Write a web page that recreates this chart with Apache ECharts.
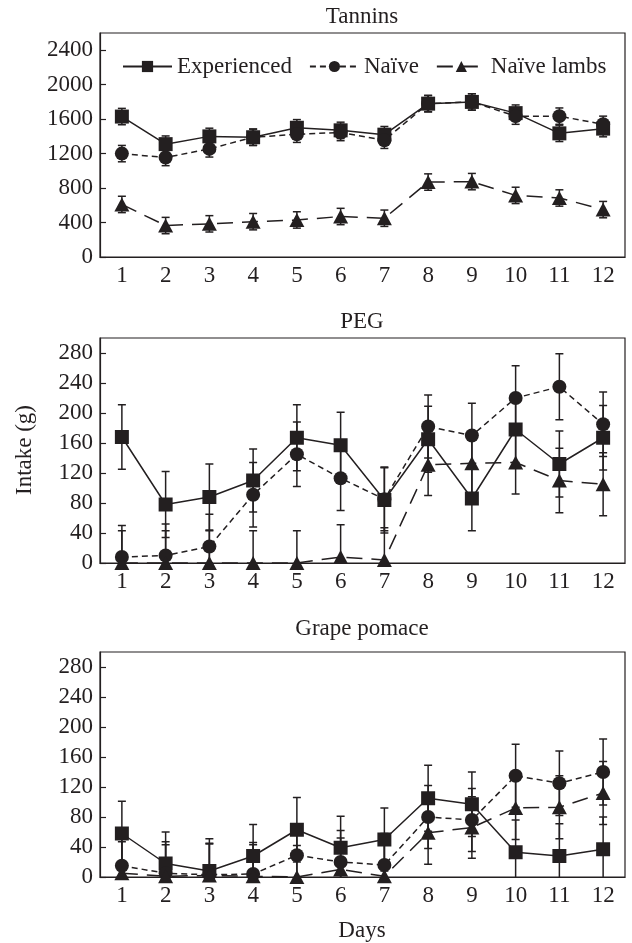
<!DOCTYPE html>
<html><head><meta charset="utf-8">
<script src="https://cdn.jsdelivr.net/npm/echarts@6/dist/echarts.min.js"></script>
<style>html,body{margin:0;padding:0;background:#fff}#c{width:632px;height:943px}</style>
</head><body><div id="c"></div>
<script>
// ---- data ----
const days = ['1','2','3','4','5','6','7','8','9','10','11','12'];
const groupNames = ['Experienced', 'Naïve', 'Naïve lambs'];
const panelTitles = ['Tannins', 'PEG', 'Grape pomace'];

// Tannins
const tanExp      = [1630,1310,1400,1390,1500,1470,1420,1780,1800,1670,1435,1490];
const tanExpErr   = [95,95,95,95,95,95,95,95,95,95,95,95];
const tanNaive    = [1200,1155,1255,1390,1425,1445,1355,1780,1800,1635,1635,1540];
const tanNaiveErr = [95,95,95,95,95,95,95,95,95,95,95,95];
const tanLambs    = [610,365,385,410,430,470,450,870,875,715,685,550];
const tanLambsErr = [95,95,95,95,95,95,95,95,95,95,95,95];

// PEG
const pegExp      = [168,78,88,110,167,157,84,165,86,178,132,167];
const pegExpErr   = [43,44,44,42,44,44,44,44,43,44,44,43];
const pegNaive    = [8,10,22,91,145,113,85,182,170,220,235,185];
const pegNaiveErr = [42,42,43,43,43,43,42,42,43,43,44,43];
const pegLambs    = [0,0,0,0,0,8,4,131,133,134,110,105];
const pegLambsErr = [43,43,43,43,43,43,43,41,42,42,43,42];

// Grape pomace
const gpExp       = [58,18,8,28,63,39,50,105,97,33,28,37];
const gpExpErr    = [43,42,43,42,43,42,42,44,43,43,43,43];
const gpNaive     = [15,5,3,4,29,20,16,80,76,135,125,140];
const gpNaiveErr  = [42,42,42,42,42,42,42,42,42,42,43,44];
const gpLambs     = [5,1,2,1,0,10,1,59,66,92,93,112];
const gpLambsErr  = [42,42,42,42,42,42,42,42,41,42,42,42];

const yMax = [2600, 300, 300];
const yInterval = [400, 40, 40];

// ---- chart ----
const INK = '#231f20';
const FONT = '"Liberation Serif", "Times New Roman", serif';
const FS = 23;

const panels = [
  [[tanExp, tanExpErr], [tanNaive, tanNaiveErr], [tanLambs, tanLambsErr]],
  [[pegExp, pegExpErr], [pegNaive, pegNaiveErr], [pegLambs, pegLambsErr]],
  [[gpExp, gpExpErr], [gpNaive, gpNaiveErr], [gpLambs, gpLambsErr]]
];
const symbols = ['rect', 'circle', 'triangle'];
const symbolSizes = [14, 14, [15, 14]];
const dashes = ['solid', [6, 4], [16, 9]];

const gridTops = [33, 338, 652];
const gridHeights = [224, 225, 225];

const grid = gridTops.map((t, i) => ({
  left: 100, right: 7, top: t, height: gridHeights[i],
  show: true, borderColor: INK, borderWidth: 1.2, backgroundColor: 'transparent'
}));

const xAxis = gridTops.map((t, i) => ({
  type: 'category', gridIndex: i, data: days, boundaryGap: true,
  axisLine: { lineStyle: { color: INK, width: 1.2 } },
  axisTick: { inside: true, length: 7, interval: 0, lineStyle: { color: INK, width: 1.2 } },
  axisLabel: { color: INK, fontFamily: FONT, fontSize: FS, margin: 7, interval: 0 },
  splitLine: { show: false }
}));

const yAxis = gridTops.map((t, i) => ({
  type: 'value', gridIndex: i, min: 0, max: yMax[i], interval: yInterval[i],
  axisLine: { show: true, lineStyle: { color: INK, width: 1.2 } },
  axisTick: { show: true, inside: true, length: 6, lineStyle: { color: INK, width: 1.2 } },
  axisLabel: { color: INK, fontFamily: FONT, fontSize: FS, margin: 7, showMaxLabel: false,
               formatter: v => String(v) },
  splitLine: { show: false }
}));

function errRender(params, api) {
  const x = api.value(0), y = api.value(1), e = api.value(2);
  const lo = Math.max(0, y - e), hi = y + e;
  const pHi = api.coord([x, hi]);
  const pLo = api.coord([x, lo]);
  const w = 4;
  const st = { stroke: INK, lineWidth: 1.5 };
  const children = [
    { type: 'line', shape: { x1: pHi[0], y1: pHi[1], x2: pLo[0], y2: pLo[1] }, style: st },
    { type: 'line', shape: { x1: pHi[0] - w, y1: pHi[1], x2: pHi[0] + w, y2: pHi[1] }, style: st }
  ];
  if (y - e > 0) {
    children.push({ type: 'line', shape: { x1: pLo[0] - w, y1: pLo[1], x2: pLo[0] + w, y2: pLo[1] }, style: st });
  }
  return { type: 'group', children };
}

const series = [];
panels.forEach((panel, p) => {
  panel.forEach((pair, g) => {
    const vals = pair[0], errs = pair[1];
    series.push({
      type: 'custom', name: 'err-' + p + '-' + g,
      xAxisIndex: p, yAxisIndex: p,
      renderItem: errRender,
      encode: { x: 0, y: 1 },
      data: vals.map((v, i) => [i, v, errs[i]]),
      z: 2, silent: true
    });
  });
  panel.forEach((pair, g) => {
    series.push({
      type: 'line', name: groupNames[g],
      xAxisIndex: p, yAxisIndex: p,
      data: pair[0],
      symbol: symbols[g], symbolSize: symbolSizes[g], showAllSymbol: true,
      lineStyle: { color: INK, width: 1.5, type: dashes[g] },
      itemStyle: { color: INK, borderWidth: 0 },
      z: 3, animation: false
    });
  });
});

function txt(text, x, y, extra) {
  return Object.assign({ type: 'text', x, y, style: { text, font: FS + 'px ' + FONT, fill: INK,
    align: 'center', verticalAlign: 'middle', textAlign: 'center', textVerticalAlign: 'middle' } }, extra || {});
}
const graphic = [
  txt(panelTitles[0], 362, 17),
  txt(panelTitles[1], 362, 322),
  txt(panelTitles[2], 362, 629),
  txt('Days', 362, 931),
  txt('Intake (g)', 25, 450, { rotation: Math.PI / 2 })
];

const chart = echarts.init(document.getElementById('c'), null, { renderer: 'canvas' });
chart.setOption({
  animation: false,
  backgroundColor: '#fff',
  grid, xAxis, yAxis, series, graphic,
  legend: {
    data: groupNames,
    left: 117, top: 50,
    itemWidth: 49, itemHeight: 14, itemGap: 17,
    textStyle: { color: INK, fontFamily: FONT, fontSize: FS },
    selectedMode: false
  }
});
</script></body></html>
